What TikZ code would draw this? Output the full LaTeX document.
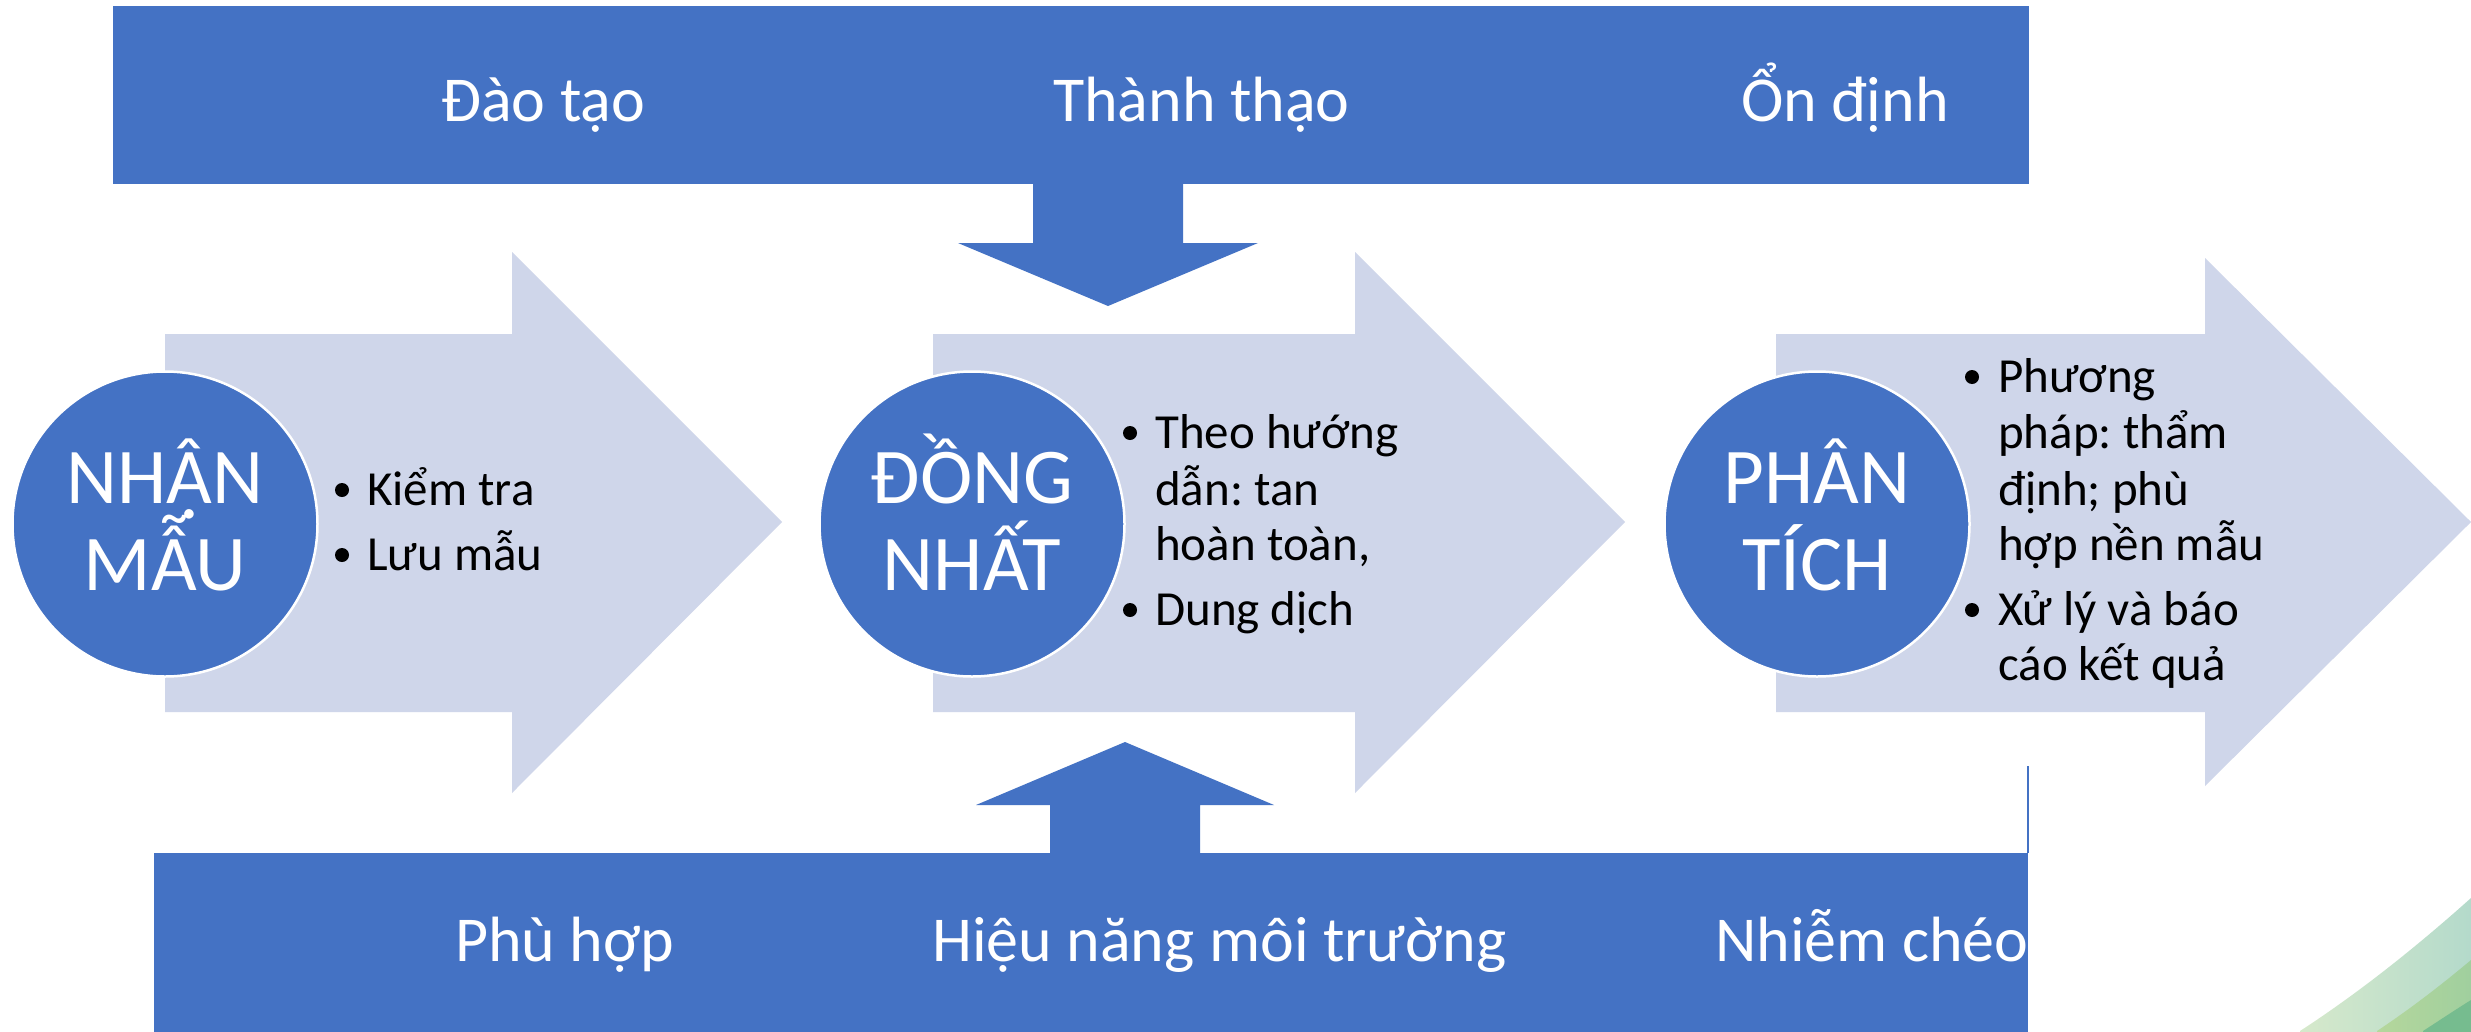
\documentclass[tikz,border=0pt]{standalone}
\usepackage{fontspec}
\setmainfont{Carlito}
\definecolor{acc}{HTML}{4472C4}
\definecolor{lite}{HTML}{CFD6EA}
\definecolor{gOneL}{HTML}{D6E9CB}
\definecolor{gOneR}{HTML}{B4DACB}
\definecolor{gTwoL}{HTML}{B5D79C}
\definecolor{gTwoR}{HTML}{A0CF9E}
\definecolor{gThree}{HTML}{76BC8F}
\newcommand{\AcircDot}{{\ooalign{Â\cr\hidewidth\raisebox{-0.2em}{.}\hidewidth\cr}}}
\frenchspacing
\begin{document}
\begin{tikzpicture}[x=1pt,y=-1pt,
  bartext/.style={font=\fontsize{64}{77}\selectfont, text=white, inner sep=0pt, anchor=base west},
  circtext/.style={font=\fontsize{79}{87}\selectfont, text=white, inner sep=0pt, anchor=base},
  bultext/.style={font=\fontsize{49}{56}\selectfont\frenchspacing, text=black, inner sep=0pt, anchor=base west},
  bulletdot/.style={circle, fill=black, minimum size=14pt, inner sep=0pt},
  circ/.style={circle, fill=acc, draw=white, line width=2.5pt, minimum size=305pt, inner sep=0pt},
  litearrow/.style={fill=lite},
  darkshape/.style={fill=acc}]
\useasboundingbox (0,0) rectangle (2471,1031);
\fill[white] (0,0) rectangle (2471,1031);

% green swoosh in the corner
\begin{scope}
\clip (0,0) rectangle (2471,1031);
\shade[left color=gOneL, right color=gOneR] (2300,1031) .. controls (2357,994) and (2414,949) .. (2471,898) -- (2471,1035) -- (2300,1035) -- cycle;
\shade[left color=gTwoL, right color=gTwoR] (2377,1031) .. controls (2410,1009) and (2440,986) .. (2471,960) -- (2471,1035) -- (2377,1035) -- cycle;
\fill[gThree] (2423,1031) .. controls (2440,1020) and (2455,1010) .. (2471,1000) -- (2471,1035) -- (2423,1035) -- cycle;
\end{scope}

% light process arrows
\fill[litearrow] (165,334) -- (512,334) -- (512,252) -- (782,522) -- (512,793) -- (512,712) -- (165,712) -- cycle;
\fill[litearrow] (933,334) -- (1355,334) -- (1355,252) -- (1625,522) -- (1355,793) -- (1355,712) -- (933,712) -- cycle;
\fill[litearrow] (1776,334) -- (2205,334) -- (2205,258) -- (2471,522) -- (2205,786) -- (2205,712) -- (1776,712) -- cycle;

% top bar with down arrow
\fill[darkshape] (1033,180) -- (1183,180) -- (1183,243) -- (1258,243) -- (1108,306) -- (958,243) -- (1033,243) -- cycle;
\fill[darkshape] (113,6) rectangle (2029,184);
% bottom bar with up arrow
\fill[darkshape] (1050,857) -- (1050,805) -- (976,805) -- (1125,742) -- (1274,805) -- (1200,805) -- (1200,857) -- cycle;
\fill[darkshape] (154,853) rectangle (2028,1035);
\draw[acc, line width=1.2pt] (2028,766) -- (2028,853);

% circles
\node[circ] (c1) at (165,524) {};
\node[circ] (c2) at (972,524) {};
\node[circ] (c3) at (1817,524) {};

\node[circtext] (c1a) at (165,503) {NH\AcircDot N};
\node[circtext] (c1b) at (165,590) {MẪU};
\node[circtext] (c2a) at (972,503) {ĐỒNG};
\node[circtext] (c2b) at (972,590) {NHẤT};
\node[circtext] (c3a) at (1817,503) {PHÂN};
\node[circtext] (c3b) at (1817,590) {TÍCH};

% bar texts
\node[bartext] (t1) at (441,121) {Đào tạo};
\node[bartext] (t2) at (1053,121) {Thành thạo};
\node[bartext] (t3) at (1741,121) {Ổn định};
\node[bartext] (b1) at (455,961) {Phù hợp};
\node[bartext] (b2) at (932,961) {Hiệu năng môi trường};
\node[bartext] (b3) at (1715,961) {Nhiễm chéo};

% bullets block 1
\node[bulletdot] (p1d1) at (342,490) {};
\node[bultext] (p1l1) at (367,505) {Kiểm tra};
\node[bulletdot] (p1d2) at (342,555) {};
\node[bultext] (p1l2) at (367,570) {Lưu mẫu};

% bullets block 2
\node[bulletdot] (p2d1) at (1130,433) {};
\node[bultext] (p2l1) at (1155,448) {Theo hướng};
\node[bultext] (p2l2) at (1155,505) {dẫn: tan};
\node[bultext] (p2l3) at (1155,560) {hoàn toàn,};
\node[bulletdot] (p2d2) at (1130,610) {};
\node[bultext] (p2l4) at (1155,625) {Dung dịch};

% bullets block 3
\node[bulletdot] (p3d1) at (1972,377) {};
\node[bultext] (p3l1) at (1998,392) {Phương};
\node[bultext] (p3l2) at (1998,448) {pháp: thẩm};
\node[bultext] (p3l3) at (1998,505) {định; phù};
\node[bultext] (p3l4) at (1998,560) {hợp nền mẫu};
\node[bulletdot] (p3d2) at (1972,610) {};
\node[bultext] (p3l5) at (1998,625) {Xử lý và báo};
\node[bultext] (p3l6) at (1998,680) {cáo kết quả};
\end{tikzpicture}
\end{document}
